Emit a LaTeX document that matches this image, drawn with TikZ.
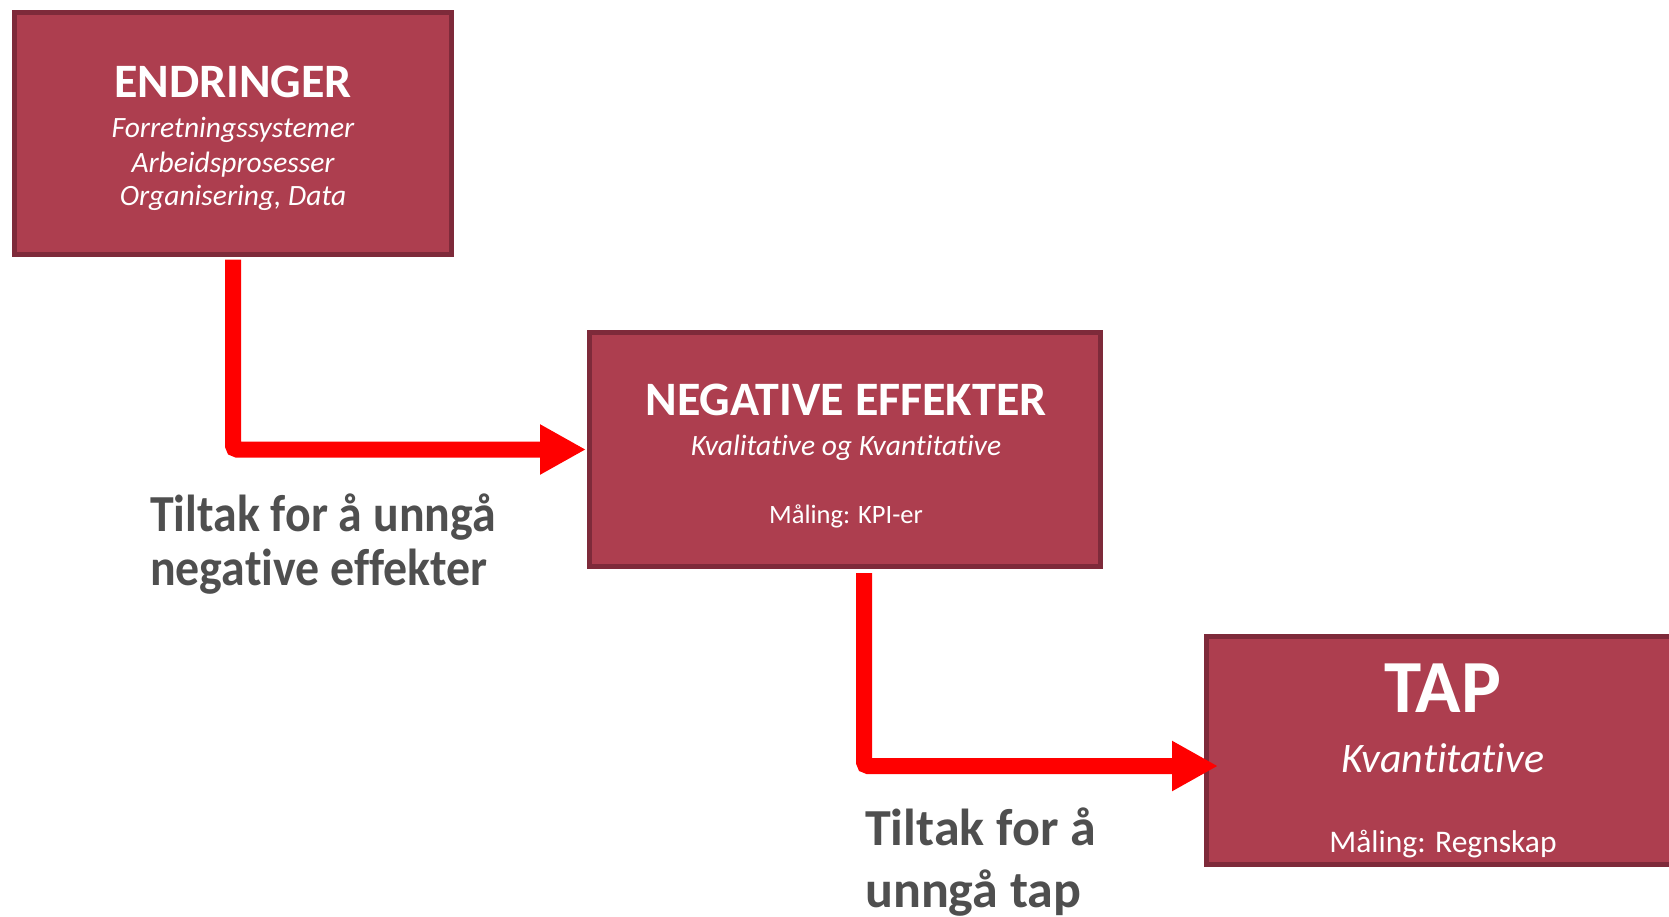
\documentclass[tikz,border=0pt]{standalone}
\usepackage{graphicx}
\usepackage{fontspec}
\setmainfont{Carlito}[Ligatures={NoCommon}]
\usetikzlibrary{arrows.meta}
\definecolor{boxfill}{HTML}{AD3E4F}
\definecolor{boxline}{HTML}{7E2A3A}
\definecolor{labelgray}{HTML}{4F4F4F}
\definecolor{flowred}{HTML}{FF0000}
\tikzset{
  stagebox/.style={draw=boxline, fill=boxfill, line width=5pt, inner sep=0pt, rectangle},
  boxtext/.style={text=white, inner sep=0pt, anchor=base},
  flow/.style={draw=flowred, line width=16pt, rounded corners=4pt,
    -{Triangle[length=46pt,width=47pt]}},
  note/.style={text=labelgray, inner sep=0pt, anchor=base west, font=\fontsize{52}{60}\selectfont\bfseries}
}
\begin{document}
\begin{tikzpicture}[x=1pt,y=-1pt]
\useasboundingbox (0,0) rectangle (1669,916);
\clip (0,0) rectangle (1669,916);

% stage boxes
\node[stagebox, minimum width=437pt, minimum height=242pt] (endr) at (233,133.5) {};
\node[stagebox, minimum width=511pt, minimum height=234pt] (nege) at (845,449.5) {};
\node[stagebox, minimum width=473pt, minimum height=228pt] (tap) at (1443,750.5) {};

% box texts
\node[boxtext, font=\fontsize{48}{52}\selectfont\bfseries] (t1) at (233,97) {ENDRINGER};
\node[boxtext, font=\fontsize{29.5}{32}\selectfont\itshape] (t1a) at (233,137) {Forretningssystemer};
\node[boxtext, font=\fontsize{29.5}{32}\selectfont\itshape] (t1b) at (233,172) {Arbeidsprosesser};
\node[boxtext, font=\fontsize{29.5}{32}\selectfont\itshape] (t1c) at (233,205) {Organisering, Data};

\node[boxtext, font=\fontsize{48}{52}\selectfont\bfseries] (t2) at (846,415) {NEGATIVE EFFEKTER};
\node[boxtext, font=\fontsize{29.5}{32}\selectfont\itshape] (t2a) at (846,455) {Kvalitative og Kvantitative};
\node[boxtext, font=\fontsize{26.5}{32}\selectfont] (t2b) at (846,523) {Måling: KPI-er};

\node[boxtext, font=\fontsize{75}{80}\selectfont\bfseries] (t3) at (1443,712) {TAP};
\node[boxtext, font=\fontsize{42}{46}\selectfont\itshape] (t3a) at (1443,772) {Kvantitative};
\node[boxtext, font=\fontsize{31.5}{36}\selectfont] (t3b) at (1443,852) {Måling: Regnskap};

% connectors
\draw[flow] ([yshift=-2.5pt]endr.south) |- ([xshift=-1pt]nege.west);
\coordinate (tapin) at ([xshift=14pt,yshift=-15.5pt]tap.west);
\draw[flow] ([xshift=19pt,yshift=-4pt]nege.south) |- (tapin);

% labels under the connectors
\node[note] (l1a) at (150,531) {\scalebox{0.92}[1]{Tiltak for å unngå}};
\node[note] (l1b) at (150,585) {\scalebox{0.92}[1]{negative effekter}};
\node[note] (l2a) at (865,845) {Tiltak for å};
\node[note] (l2b) at (865,907) {unngå tap};
\end{tikzpicture}
\end{document}
